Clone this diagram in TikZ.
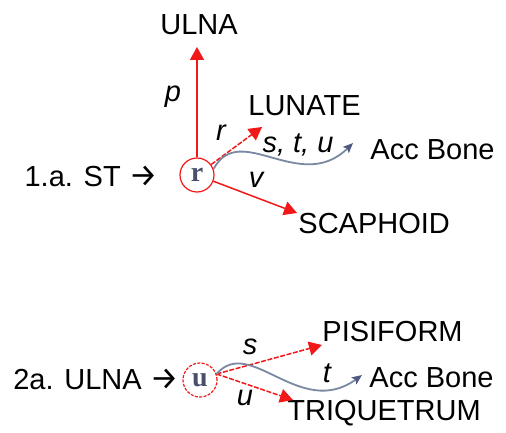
\documentclass[tikz,border=0pt]{standalone}
\usepackage{fontspec}
\setmainfont{Liberation Sans}
\newfontfamily\circfont{Liberation Serif}
\newfontfamily\arrowfont{Fira Sans}
\usetikzlibrary{arrows.meta}

\definecolor{linkred}{RGB}{240,24,24}
\definecolor{accgrey}{RGB}{122,136,162}
\definecolor{accblue}{RGB}{78,88,128}
\definecolor{letterblue}{RGB}{72,78,108}

\newcommand{\toarrow}{{\arrowfont\fontsize{16pt}{17pt}\selectfont →}}

\tikzset{
    bone/.style={font=\fontsize{14.5pt}{17pt}\selectfont, inner sep=0pt},
    lbl/.style={font=\fontsize{14.5pt}{17pt}\selectfont\itshape, inner sep=0pt},
    carpal/.style={draw=linkred, line width=0.6pt, circle, minimum size=17pt, inner sep=0pt,
        text=letterblue, font=\circfont\bfseries\fontsize{14pt}{15pt}\selectfont},
    redlink/.style={draw=linkred, line width=0.75pt, -{Triangle[length=6.5pt,width=7pt]}},
    acclink/.style={draw=accgrey, line width=0.9pt, -{Stealth[length=5pt,width=4.2pt,inset=1pt,color=accblue]}},
    fine/.style={dash pattern=on 2.5pt off 0.8pt}
}

\begin{document}
\begin{tikzpicture}[x=0.5pt, y=-0.5pt]
                \useasboundingbox (0,0) rectangle (506,432);

                % 1.a.
                \node[carpal] (r) at (197,175) {r};
                \node[bone, anchor=east] (st) at (158,176) {1.a. ST \toarrow};
                \node[bone] (ulna) at (199,25) {ULNA};
                \node[bone, anchor=west] (lunate) at (248,106) {LUNATE};
                \node[bone, anchor=west] (acc1) at (370,150) {Acc Bone};
                \node[bone, anchor=west] (scaphoid) at (298,224) {SCAPHOID};

                \coordinate (ptip) at (197,47);
                \coordinate (rtip) at (262,127);
                \coordinate (vtip) at (297,213);
                \coordinate (stutip) at (353,143);

                \draw[redlink] (r) -- (ptip);
                \draw[redlink, fine] (r) -- (rtip);
                \draw[redlink] (r) -- (vtip);
                \draw[acclink] (r.20) .. controls (240,120) and (300,195) .. (stutip);

                \node[lbl] (p) at (173,97) {p};
                \node[lbl] (rl) at (221,133) {r};
                \node[lbl] (v) at (256,180) {v};
                \node[lbl, anchor=base] (stu) at (298,153) {s, t, u};

                % 2a.
                \node[carpal, dash pattern=on 1.5pt off 0.7pt] (u) at (200,380) {u};
                \node[bone, anchor=east] (ulna2) at (179,379) {2a. ULNA \toarrow};
                \node[bone, anchor=west] (pisiform) at (322,332) {PISIFORM};
                \node[bone, anchor=west] (acc2) at (369,378) {Acc Bone};
                \node[bone, anchor=west] (triquetrum) at (287,413) {TRIQUETRUM};

                \coordinate (stip) at (322,345);
                \coordinate (utip) at (293,400);
                \coordinate (ttip) at (362,375);

                \draw[redlink, fine] (u.20) -- (stip);
                \draw[redlink, fine] (u.20) -- (utip);
                \draw[acclink] (u.20) .. controls (250,335) and (300,420) .. (ttip);

                \node[lbl] (sl) at (250,347) {s};
                \node[lbl] (tl) at (327,373) {t};
                \node[lbl] (ul) at (245,398) {u};
            \end{tikzpicture}
\end{document}
